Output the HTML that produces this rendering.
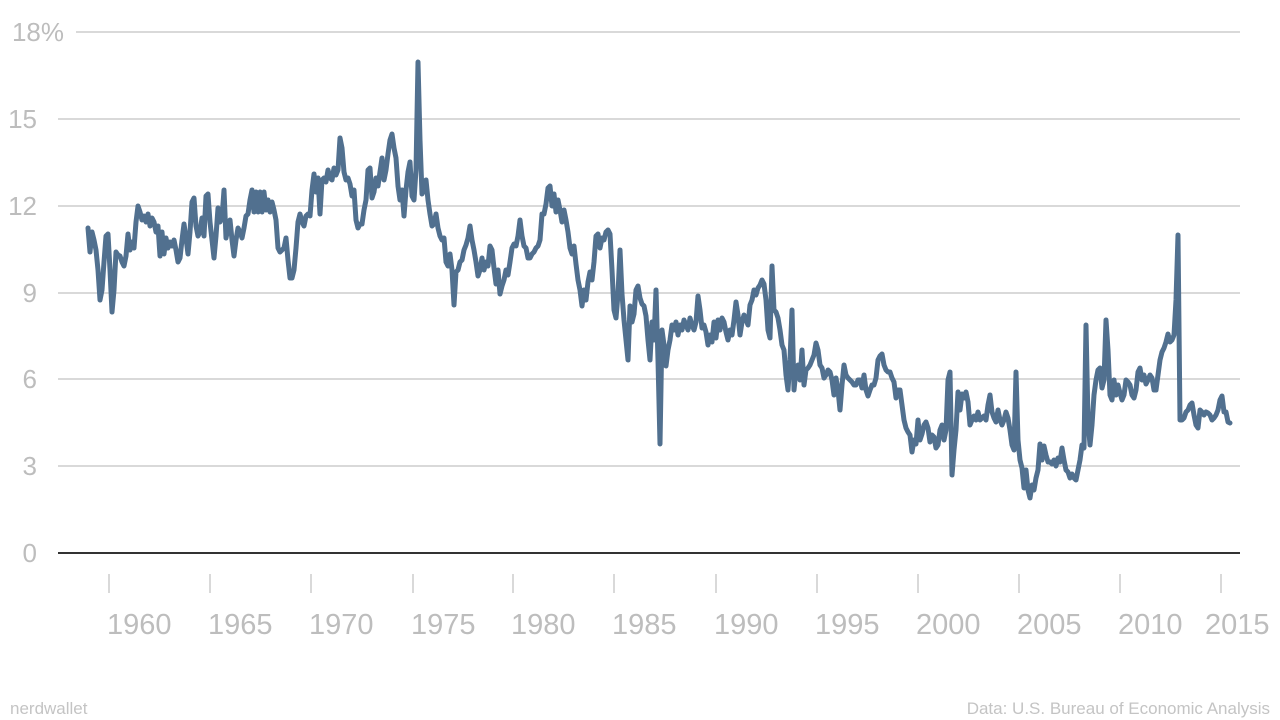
<!DOCTYPE html>
<html><head><meta charset="utf-8"><style>
html,body{margin:0;padding:0;background:#fff;}
svg{display:block;font-family:"Liberation Sans",sans-serif;}
</style></head><body>
<svg width="1280" height="720" viewBox="0 0 1280 720">
<g stroke="#d9d9d9" stroke-width="2">
<line x1="76" y1="32" x2="1240" y2="32"/>
<line x1="58" y1="119" x2="1240" y2="119"/>
<line x1="58" y1="206" x2="1240" y2="206"/>
<line x1="58" y1="293" x2="1240" y2="293"/>
<line x1="58" y1="379" x2="1240" y2="379"/>
<line x1="58" y1="466" x2="1240" y2="466"/>
</g>
<line x1="58" y1="553" x2="1240" y2="553" stroke="#333" stroke-width="2"/>
<g fill="#bdbdbd" font-size="26" text-anchor="end">
<text x="64" y="41">18%</text>
<text x="37" y="128">15</text>
<text x="37" y="215">12</text>
<text x="37" y="302">9</text>
<text x="37" y="388">6</text>
<text x="37" y="475">3</text>
<text x="37" y="562">0</text>
</g>
<g stroke="#d9d9d9" stroke-width="2">
<line x1="109" y1="574" x2="109" y2="593"/><line x1="210" y1="574" x2="210" y2="593"/><line x1="311" y1="574" x2="311" y2="593"/><line x1="413" y1="574" x2="413" y2="593"/><line x1="513" y1="574" x2="513" y2="593"/><line x1="614" y1="574" x2="614" y2="593"/><line x1="716" y1="574" x2="716" y2="593"/><line x1="817" y1="574" x2="817" y2="593"/><line x1="918" y1="574" x2="918" y2="593"/><line x1="1019" y1="574" x2="1019" y2="593"/><line x1="1120" y1="574" x2="1120" y2="593"/><line x1="1221" y1="574" x2="1221" y2="593"/>
</g>
<g fill="#bdbdbd" font-size="29">
<text x="107" y="634">1960</text><text x="208" y="634">1965</text><text x="309" y="634">1970</text><text x="411" y="634">1975</text><text x="511" y="634">1980</text><text x="612" y="634">1985</text><text x="714" y="634">1990</text><text x="815" y="634">1995</text><text x="916" y="634">2000</text><text x="1017" y="634">2005</text><text x="1118" y="634">2010</text><text x="1205" y="634">2015</text>
</g>
<text x="10" y="714" fill="#c4c4c4" font-size="17">nerdwallet</text>
<text x="1270" y="714" fill="#c4c4c4" font-size="17" text-anchor="end">Data: U.S. Bureau of Economic Analysis</text>
<polyline fill="none" stroke="#51708f" stroke-width="5" stroke-linejoin="round" stroke-linecap="round" points="88,228 90,252 92,232 94,240 96,250 98,270 100,300 102,290 104,262 106,236 108,234 110,270 112,312 114,290 116,252 118,255 120,256 122,262 124,266 126,256 128,234 130,250 132,242 134,248 136,222 138,206 140,212 142,220 144,216 146,222 148,214 150,226 152,218 154,222 156,232 158,226 160,256 162,232 164,254 166,238 168,248 170,242 172,246 174,240 176,250 178,262 180,258 182,240 184,224 186,238 188,254 190,232 192,202 194,198 196,226 198,236 200,232 202,218 204,236 206,196 208,194 210,222 212,240 214,258 216,236 218,208 220,222 222,218 224,190 226,238 228,228 230,220 232,240 234,256 236,240 238,228 240,232 242,238 244,228 246,216 248,214 250,200 252,190 254,212 256,192 258,212 260,192 262,212 264,192 266,210 268,200 270,212 272,202 274,210 276,220 278,248 280,252 282,250 284,248 286,238 288,260 290,278 292,278 294,270 296,248 298,222 300,214 302,222 304,226 306,216 308,214 310,216 312,190 314,174 316,192 318,178 320,214 322,180 324,178 326,182 328,170 330,178 332,180 334,168 336,175 338,170 340,138 342,148 344,172 346,180 348,178 350,184 352,196 354,190 356,220 358,228 360,224 362,224 364,210 366,200 368,170 370,168 372,198 374,192 376,178 378,186 380,172 382,158 384,180 386,170 388,154 390,140 392,134 394,148 396,158 398,186 400,200 402,190 404,216 406,190 408,172 410,162 412,196 414,200 416,170 418,62 420,140 422,194 424,190 426,180 428,200 430,214 432,226 434,224 436,214 438,228 440,236 442,240 444,238 446,262 448,266 450,254 452,270 454,305 456,272 458,270 460,262 462,260 464,250 466,245 468,238 470,226 472,240 474,250 476,262 478,276 480,270 482,258 484,270 486,262 488,266 490,246 492,250 494,268 496,284 498,270 500,294 502,286 504,280 506,270 508,275 510,262 512,248 514,244 516,246 518,236 520,220 522,236 524,246 526,248 528,258 530,258 532,254 534,252 536,248 538,246 540,240 542,214 544,214 546,204 548,188 550,186 552,206 554,194 556,212 558,200 560,210 562,222 564,210 566,220 568,232 570,248 572,254 574,246 576,264 578,280 580,290 582,306 584,290 586,300 588,282 590,272 592,280 594,262 596,236 598,234 600,248 602,238 604,240 606,232 608,230 610,234 612,270 614,310 616,318 618,294 620,250 622,294 624,320 626,340 628,360 630,306 632,322 634,314 636,290 638,286 640,298 642,304 644,306 646,316 648,340 650,360 652,322 654,340 656,290 658,360 660,444 662,330 664,345 666,366 668,350 670,340 672,325 674,330 676,322 678,335 680,325 682,330 684,320 686,325 688,330 690,318 692,325 694,330 696,322 698,296 700,310 702,328 704,325 706,332 708,345 710,335 712,342 714,322 716,338 718,320 720,330 722,318 724,322 726,332 728,340 730,330 732,335 734,320 736,302 738,315 740,335 742,322 744,315 746,320 748,325 750,305 752,300 754,290 756,295 758,288 760,285 762,280 764,284 766,300 768,330 770,338 772,266 774,310 776,312 778,318 780,330 782,345 784,350 786,375 788,390 790,360 792,310 794,390 796,370 798,365 800,380 802,350 804,385 806,370 808,368 810,365 812,360 814,355 816,343 818,350 820,365 822,368 824,378 826,375 828,370 830,372 832,380 834,395 836,378 838,390 840,410 842,385 844,365 846,375 848,378 850,380 852,382 854,385 856,385 858,380 860,380 862,388 864,375 866,390 868,396 870,390 872,385 874,385 876,378 878,360 880,356 882,354 884,365 886,370 888,372 890,372 892,378 894,382 896,398 898,390 900,390 902,405 904,420 906,428 908,432 910,435 912,452 914,440 916,444 918,420 920,440 922,434 924,425 926,422 928,428 930,442 932,435 934,437 936,448 938,445 940,430 942,425 944,440 946,430 948,380 950,372 952,475 954,450 956,430 958,392 960,410 962,394 964,398 966,392 968,402 970,425 972,420 974,416 976,420 978,412 980,420 982,418 984,416 986,420 988,405 990,395 992,412 994,418 996,422 998,410 1000,420 1002,425 1004,420 1006,412 1008,418 1010,430 1012,445 1014,450 1016,372 1018,440 1020,460 1022,468 1024,488 1026,470 1028,490 1030,498 1032,485 1034,490 1036,478 1038,470 1040,444 1042,460 1044,446 1046,455 1048,462 1050,462 1052,464 1054,460 1056,466 1058,458 1060,462 1062,448 1064,460 1066,470 1068,472 1070,478 1072,474 1074,478 1076,480 1078,470 1080,460 1082,445 1084,448 1086,325 1088,420 1090,445 1092,425 1094,395 1096,380 1098,370 1100,368 1102,388 1104,380 1106,320 1108,350 1110,395 1112,400 1114,380 1116,395 1118,385 1120,393 1122,400 1124,395 1126,380 1128,382 1130,385 1132,395 1134,398 1136,390 1138,372 1140,368 1142,380 1144,375 1146,384 1148,380 1150,375 1152,378 1154,390 1156,390 1158,375 1160,360 1162,352 1164,348 1166,342 1168,334 1170,342 1172,340 1174,335 1176,300 1178,235 1180,420 1182,420 1184,418 1186,412 1188,410 1190,405 1192,403 1194,415 1196,425 1198,428 1200,410 1202,412 1204,415 1206,412 1208,413 1210,415 1212,420 1214,418 1216,415 1218,410 1220,400 1222,396 1224,412 1226,412 1228,422 1230,423"/>
</svg>
</body></html>
